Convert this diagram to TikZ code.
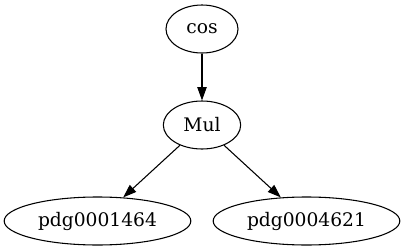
\documentclass[tikz,border=0pt]{standalone}
\usepackage{fontspec}
\setmainfont{DejaVu Serif}
\usetikzlibrary{arrows.meta, shapes.geometric}

\begin{document}
\begin{tikzpicture}[
  x=0.75pt, y=-0.75pt,
  font=\fontsize{14}{16}\selectfont,
  op/.style={ellipse, draw=black, line width=0.8pt, inner sep=0pt,
             minimum height=36pt},
  e/.style={-{Triangle[length=10pt, width=7pt]}, draw=black, line width=0.8pt}
]
\useasboundingbox (0,0) rectangle (405,251);

% ===================================================== nodes
\node[op, minimum width=54pt]  (cosn) at (202, 29)  {cos};
\node[op, minimum width=58pt]  (muln) at (202, 125) {Mul};
\node[op, minimum width=140pt] (pdga) at (97.5, 221) {pdg0001464};
\node[op, minimum width=140pt] (pdgb) at (306.5, 221) {pdg0004621};

% ===================================================== edges
\draw[e] (cosn) -- (muln);
\draw[e] (muln) -- (pdga);
\draw[e] (muln) -- (pdgb);

\end{tikzpicture}
\end{document}
